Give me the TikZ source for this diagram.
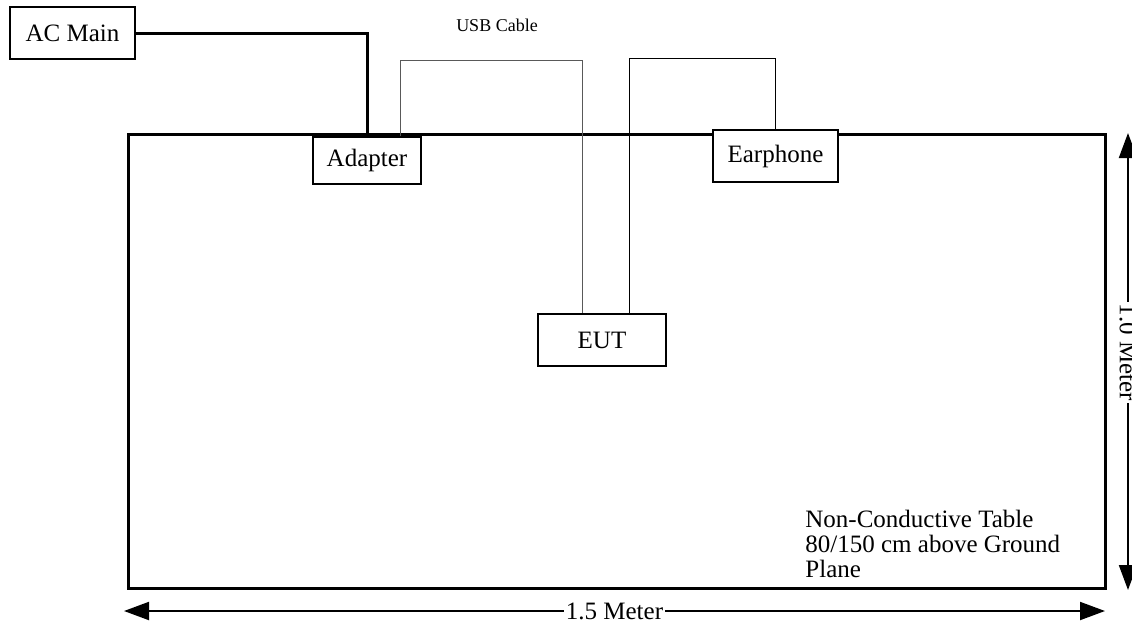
\documentclass[tikz,border=0pt]{standalone}
\usepackage{fontspec}
\setmainfont{Liberation Serif}
\usepackage{tikz}
\usetikzlibrary{arrows.meta,positioning}

\begin{document}
\begin{tikzpicture}[
  x=0.5pt, y=-0.5pt,
  block/.style={
    rectangle, draw=black, line width=0.75pt, fill=white,
    font=\fontsize{12.5}{12.5}\selectfont,
    minimum width=62.5pt, minimum height=26pt, inner sep=0pt,
  },
  tablebox/.style={rectangle, draw=black, line width=1.5pt,
    minimum width=488.5pt, minimum height=227pt, inner sep=0pt},
  power/.style={line width=1.5pt, line cap=rect},
  usb/.style={line width=0.5pt, color=black!65},
  cable/.style={line width=0.5pt, color=black},
  dim/.style={{Triangle[length=12.5pt,width=9pt]}-{Triangle[length=12.5pt,width=9pt]},
              line width=1pt},
  lbl/.style={font=\fontsize{12.5}{12.5}\selectfont, fill=white, inner sep=1pt},
]
  \useasboundingbox (0,0) rectangle (1132,623);

  % table and devices
  \node[tablebox] (table) at (616.5,361) {};
  \node[block] (acmain)   at (72.5,33)   {AC Main};
  \node[block, minimum width=54pt, minimum height=23.5pt] (adapter) at (367,160.5) {Adapter};
  \node[block] (earphone) at (775.5,156) {Earphone};
  \node[block, minimum width=64pt] (eut) at (602,340) {EUT};

  % cables
  \draw[power] (acmain.east) -| (adapter.north);
  \draw[usb] ([xshift=16.5pt]adapter.north) -- ++(0,-76) -| ([xshift=-10pt]eut.north);
  \draw[cable] ([xshift=13.5pt]eut.north) -- ++(0,-255) -| (earphone.north);
  \node[font=\fontsize{9}{9}\selectfont] (usblbl) at (497,25) {USB Cable};

  \node[anchor=north west, align=left, inner sep=0pt,
        font=\fontsize{12.5}{12.5}\selectfont] (tabletxt) at (805,510)
        {Non-Conductive Table\\80/150 cm above Ground\\Plane};

  % dimensions
  \coordinate (hleft)  at (124,611);
  \coordinate (hright) at (1105,611);
  \coordinate (vtop)   at (1128,133);
  \coordinate (vbot)   at (1128,590);
  \draw[dim] (hleft) -- node[lbl]{1.5 Meter} (hright);
  \draw[dim] (vtop) -- node[lbl, pos=0.48, rotate=-90]{1.0 Meter} (vbot);
\end{tikzpicture}
\end{document}
